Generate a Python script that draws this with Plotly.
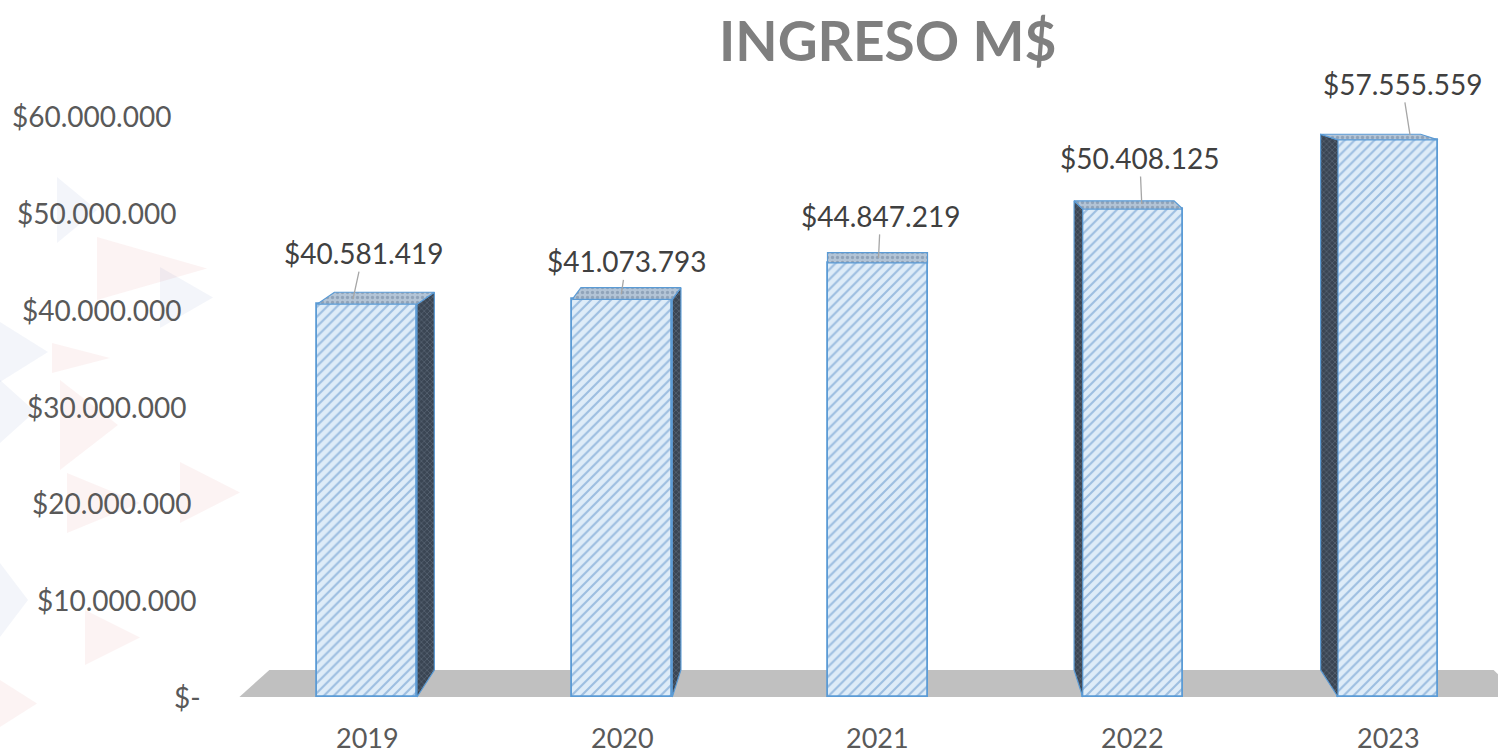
import plotly.graph_objects as go

# ---------------- data ----------------
years = ["2019", "2020", "2021", "2022", "2023"]
income = [40581419, 41073793, 44847219, 50408125, 57555559]
y_tick_values = [0, 10000000, 20000000, 30000000, 40000000, 50000000, 60000000]
y_tick_labels = ["$-", "$10.000.000", "$20.000.000", "$30.000.000",
                 "$40.000.000", "$50.000.000", "$60.000.000"]
title_text = "INGRESO M$"

def money(v):
    return "$" + f"{v:,}".replace(",", ".")

label_texts = [money(v) for v in income]

# ---------------- geometry / style ----------------
W, H = 1498, 753
PX_CAT = 255.25          # pixels per category
PX_VAL = 9.68e-6         # pixels per value unit
FIRST_PX = 367           # pixel center of first category
ZERO_PX = 697            # pixel row of value 0
X0 = -FIRST_PX / PX_CAT
X1 = X0 + W / PX_CAT
Y0 = -(H - ZERO_PX) / PX_VAL
Y1 = Y0 + H / PX_VAL
BAR_W = 100 / PX_CAT

idx = list(range(len(years)))
mid = (len(years) - 1) / 2

def px2dx(p):
    return p / PX_CAT

def px2dy(p):
    return p / PX_VAL

# label placement (pixel offsets)
tip_dx_px = [-14, -1, 1, 9, 22]
label_ax = [10, 5, 2, -2, -8]
label_ay = [-46, -33, -42, -46, -51]

FRONT_BG = "#deecf8"
BLUE = "#5b9bd5"

fig = go.Figure()

# side faces and top faces as polygons computed from data
side_x, side_y, top_x, top_y = [], [], [], []
for i, v in zip(idx, income):
    dx = px2dx(-8.68 * (i - mid))
    dy_top = px2dy(27 - 0.372 * v / 1e6)
    dy_bot = px2dy(27)
    xl, xr = i - BAR_W / 2, i + BAR_W / 2
    if abs(dx) > 1e-9:
        edge = xr if dx > 0 else xl
        side_x += [edge, edge, edge + dx, edge + dx, edge, None]
        side_y += [0, v, v + dy_top, dy_bot, 0, None]
    top_x += [xl, xr, xr + dx, xl + dx, xl, None]
    top_y += [v, v, v + dy_top, v + dy_top, v, None]

fig.add_trace(go.Bar(
    x=idx, y=income, width=BAR_W,
    marker=dict(color=FRONT_BG,
                pattern=dict(shape="/", fgcolor="#5a8fc8", bgcolor=FRONT_BG,
                             size=7, solidity=0.3),
                line=dict(color=BLUE, width=1.8)),
    hoverinfo="skip",
))

fig.add_trace(go.Scatter(
    x=side_x, y=side_y, mode="lines", fill="toself",
    fillcolor="#3f4b59",
    fillpattern=dict(shape="x", fgcolor="#8c9bab", bgcolor="#3a4553",
                     size=4, solidity=0.25),
    line=dict(color=BLUE, width=1.2), hoverinfo="skip",
))

fig.add_trace(go.Scatter(
    x=top_x, y=top_y, mode="lines", fill="toself",
    fillcolor="#a9bbcf",
    fillpattern=dict(shape=".", fgcolor="#6d829b", bgcolor="#b3c4d6",
                     size=5, solidity=0.35),
    line=dict(color=BLUE, width=1.2), hoverinfo="skip",
))

shapes = []
# faint decorative triangles (pixel coords -> paper)
tri = [
    (97, 237, 300, 207, "pink"), (160, 267, 328, 213, "blue"),
    (57, 177, 243, 97, "blue"), (52, 343, 373, 110, "pink"),
    (0, 322, 382, 48, "blue"), (60, 380, 470, 118, "pink"),
    (0, 380, 443, 35, "blue"), (180, 462, 523, 240, "pink"),
    (67, 473, 533, 140, "pink"), (0, 563, 637, 28, "blue"),
    (85, 610, 665, 140, "pink"), (0, 680, 727, 37, "pink"),
]
for left, top, bot, tip, col in tri:
    c = "rgba(215,90,90,0.07)" if col == "pink" else "rgba(80,120,180,0.07)"
    p = (f"M {left / W} {1 - top / H} L {left / W} {1 - bot / H} "
         f"L {tip / W} {1 - (top + bot) / 2 / H} Z")
    shapes.append(dict(type="path", xref="paper", yref="paper", path=p,
                       fillcolor=c, line=dict(width=0), layer="below"))

# floor
fl_bl = idx[0] - 0.5
fl_tl = idx[0] - 0.5 + px2dx(30)
fl_tr = idx[-1] + 0.5 - px2dx(22)
fl_br = idx[-1] + 0.5 + px2dx(6)
fl_h = px2dy(27)
shapes.append(dict(type="path", xref="x", yref="y",
                   path=f"M {fl_bl} 0 L {fl_tl} {fl_h} L {fl_tr} {fl_h} L {fl_br} 0 Z",
                   fillcolor="#c0c0c0", line=dict(width=0), layer="below"))

annotations = []
# title
annotations.append(dict(text=title_text, xref="paper", yref="paper",
                        x=887 / W, y=1 - 40 / H, showarrow=False,
                        xanchor="center", yanchor="middle",
                        font=dict(family="Lato", size=55, color="#7f7f7f",
                                  weight="bold")))
# y tick labels (staggered)
for v, t in zip(y_tick_values, y_tick_labels):
    right_px = 203 - 30 * (v / 60000000)
    annotations.append(dict(text=t, x=X0 + px2dx(right_px), y=v,
                            xref="x", yref="y", showarrow=False,
                            xanchor="right", yanchor="middle",
                            font=dict(family="Lato", size=28, color="#595959")))
# category labels
for i, yr in zip(idx, years):
    annotations.append(dict(text=yr, x=i, y=0, xref="x", yref="y",
                            showarrow=False, yshift=-40,
                            xanchor="center", yanchor="middle",
                            font=dict(family="Lato", size=27, color="#595959")))
# data labels with leader lines
for i, v, t, tdx, ax, ay in zip(idx, income, label_texts, tip_dx_px,
                                label_ax, label_ay):
    annotations.append(dict(text=t, x=i + px2dx(tdx), y=v + px2dy(5),
                            xref="x", yref="y", showarrow=True,
                            ax=ax, ay=ay, arrowhead=0, arrowwidth=1.3,
                            arrowcolor="#a6a6a6", standoff=0,
                            font=dict(family="Lato", size=28, color="#404040")))

fig.update_layout(
    width=W, height=H,
    margin=dict(l=0, r=0, t=0, b=0),
    paper_bgcolor="white", plot_bgcolor="white",
    showlegend=False,
    xaxis=dict(range=[X0, X1], visible=False, fixedrange=True),
    yaxis=dict(range=[Y0, Y1], visible=False, fixedrange=True),
    shapes=shapes, annotations=annotations,
    bargap=0,
)

fig.write_html("out.html",
               config={"displayModeBar": False},
               post_script="document.body.style.margin='0px';"
                           "document.body.style.overflow='hidden';")
